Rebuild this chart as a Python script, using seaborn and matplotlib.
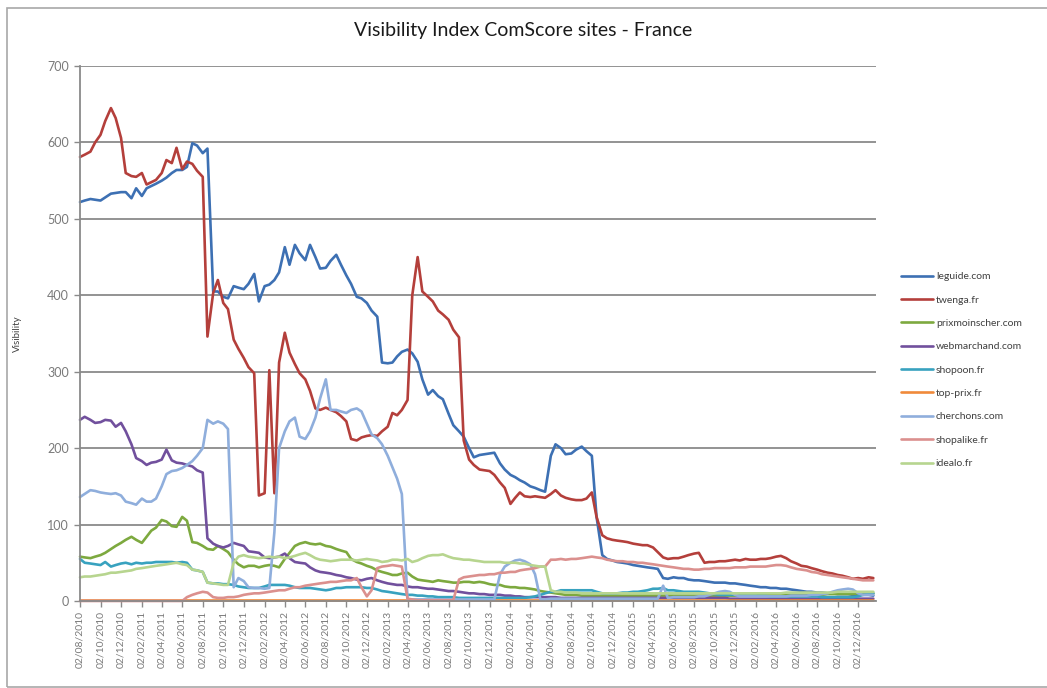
import pandas as pd
import matplotlib.pyplot as plt
import seaborn as sns
from matplotlib.patches import Rectangle

sns.set_theme(style='white')
plt.rcParams['font.family'] = ['Lato', 'DejaVu Sans']

sites = ['leguide.com', 'twenga.fr', 'prixmoinscher.com', 'webmarchand.com', 'shopoon.fr',
         'top-prix.fr', 'cherchons.com', 'shopalike.fr', 'idealo.fr']
colors = ['#3D70B3', '#B43F3B', '#7DA93F', '#71509D', '#38A2BF',
          '#F08A3A', '#8FAEDC', '#DB908E', '#B7D58F']

# semi-monthly readings, 02/08/2010 -> 16/01/2017
dates = pd.date_range('2010-08-01', periods=156, freq='SMS') + pd.Timedelta(days=1)

leguide = [522, 524, 526, 525, 524, 528, 533, 534, 535, 535,
           527, 540, 530, 540, 543, 546, 550, 554, 560, 564,
           564, 568, 599, 596, 586, 592, 405, 405, 398, 396,
           412, 410, 408, 415, 428, 392, 412, 414, 420, 430,
           463, 440, 466, 455, 446, 466, 450, 435, 436, 445,
           453, 440, 426, 415, 398, 396, 390, 380, 372, 312,
           311, 312, 320, 326, 329, 324, 313, 290, 270, 276,
           268, 264, 245, 230, 222, 215, 200, 188, 191, 192,
           193, 194, 180, 172, 165, 162, 158, 155, 150, 148,
           145, 143, 190, 205, 200, 192, 193, 198, 202, 196,
           190, 110, 60, 55, 53, 51, 50, 49, 47, 46,
           45, 44, 43, 42, 30, 29, 31, 30, 30, 28,
           27, 27, 26, 25, 24, 24, 24, 23, 23, 22,
           21, 20, 19, 18, 18, 17, 17, 16, 16, 15,
           14, 13, 12, 12, 11, 11, 10, 10, 9, 9,
           9, 8, 8, 8, 8, 7]

twenga = [581, 584, 588, 600, 610, 628, 645, 632, 606, 560,
          556, 555, 560, 545, 548, 551, 560, 577, 573, 593,
          565, 575, 572, 563, 555, 346, 403, 420, 390, 382,
          342, 330, 318, 306, 298, 138, 141, 302, 141, 312,
          351, 325, 310, 298, 290, 275, 252, 250, 253, 250,
          247, 242, 235, 212, 210, 214, 216, 217, 216, 222,
          228, 246, 243, 250, 263, 400, 450, 405, 398, 392,
          380, 375, 368, 355, 345, 210, 185, 178, 172, 171,
          170, 165, 155, 148, 127, 135, 142, 137, 136, 137,
          136, 135, 140, 145, 138, 135, 133, 132, 132, 134,
          142, 110, 86, 82, 80, 79, 78, 77, 75, 74,
          73, 73, 70, 64, 57, 55, 56, 56, 58, 60,
          62, 63, 50, 51, 51, 52, 52, 53, 54, 53,
          55, 54, 54, 55, 55, 56, 58, 59, 56, 52,
          49, 46, 45, 43, 41, 39, 37, 36, 34, 33,
          31, 29, 30, 29, 31, 30]

prixmoinscher = [58, 57, 56, 58, 60, 63, 68, 72, 76, 80,
                 84, 80, 76, 84, 92, 96, 106, 104, 98, 97,
                 110, 105, 77, 76, 72, 68, 67, 72, 68, 64,
                 54, 48, 44, 46, 46, 44, 46, 47, 46, 44,
                 55, 63, 72, 75, 77, 75, 74, 75, 72, 71,
                 68, 66, 64, 55, 51, 49, 46, 44, 40, 38,
                 36, 34, 34, 36, 37, 32, 28, 27, 26, 25,
                 27, 26, 25, 24, 24, 25, 25, 24, 25, 24,
                 22, 21, 21, 19, 18, 18, 17, 17, 16, 15,
                 13, 12, 11, 10, 9, 8, 8, 8, 7, 7,
                 7, 7, 7, 7, 7, 7, 7, 7, 7, 7,
                 7, 7, 7, 7, 7, 7, 7, 7, 7, 7,
                 7, 7, 7, 7, 7, 7, 7, 7, 7, 7,
                 7, 7, 7, 8, 8, 8, 8, 8, 8, 8,
                 8, 8, 8, 8, 8, 8, 9, 9, 9, 9,
                 9, 9, 10, 10, 10, 10]

webmarchand = [237, 241, 237, 233, 234, 237, 236, 228, 233, 222,
               205, 187, 183, 178, 181, 182, 185, 198, 184, 181,
               180, 178, 176, 171, 168, 82, 75, 72, 70, 72,
               76, 74, 72, 65, 64, 63, 57, 56, 57, 58,
               62, 56, 51, 50, 49, 44, 40, 38, 37, 36,
               34, 33, 31, 30, 28, 27, 29, 30, 27, 25,
               23, 22, 21, 21, 19, 18, 18, 17, 16, 16,
               15, 14, 13, 13, 12, 11, 10, 10, 9, 9,
               8, 8, 8, 7, 7, 6, 6, 5, 5, 5,
               5, 5, 5, 5, 4, 4, 4, 4, 4, 4,
               4, 4, 4, 4, 4, 4, 4, 4, 4, 4,
               4, 4, 4, 4, 4, 4, 4, 4, 4, 4,
               4, 4, 4, 4, 4, 4, 4, 3, 3, 3,
               3, 3, 3, 3, 3, 3, 3, 3, 3, 3,
               3, 3, 3, 3, 3, 3, 3, 3, 3, 3,
               3, 3, 3, 3, 3, 3]

shopoon = [55, 50, 49, 48, 47, 51, 45, 47, 49, 50,
           48, 50, 49, 50, 50, 51, 51, 51, 51, 50,
           51, 50, 41, 40, 38, 24, 23, 23, 22, 22,
           21, 19, 18, 17, 17, 17, 19, 21, 21, 21,
           21, 20, 18, 17, 17, 17, 16, 15, 14, 15,
           17, 17, 18, 18, 18, 18, 17, 17, 15, 13,
           12, 11, 10, 9, 8, 8, 7, 7, 6, 6,
           5, 5, 5, 5, 4, 4, 4, 4, 4, 4,
           4, 4, 4, 4, 4, 4, 4, 4, 5, 6,
           8, 10, 12, 12, 14, 14, 14, 14, 14, 14,
           14, 12, 10, 10, 10, 10, 11, 11, 12, 12,
           13, 14, 16, 16, 17, 14, 14, 13, 12, 12,
           12, 12, 11, 10, 9, 8, 8, 8, 8, 7,
           7, 7, 7, 7, 7, 6, 6, 6, 6, 6,
           6, 6, 6, 6, 6, 5, 5, 5, 5, 5,
           5, 5, 6, 8, 9, 10]

topprix = [1, 1, 1, 1, 1, 1, 1, 1, 1, 1,
           1, 1, 1, 1, 1, 1, 1, 1, 1, 1,
           1, 1, 1, 1, 1, 1, 1, 1, 1, 1,
           1, 1, 1, 1, 1, 1, 1, 1, 1, 1,
           1, 1, 1, 1, 1, 1, 1, 1, 1, 1,
           1, 1, 1, 1, 1, 1, 1, 1, 1, 1,
           1, 1, 1, 1, 1, 1, 1, 1, 1, 1,
           1, 1, 1, 1, 1, 1, 1, 1, 1, 1,
           1, 1, 1, 1, 1, 1, 1, 1, 1, 1,
           1, 1, 1, 1, 1, 1, 1, 1, 1, 1,
           1, 1, 1, 1, 1, 1, 1, 1, 1, 1,
           1, 1, 1, 1, 1, 1, 1, 1, 1, 1,
           1, 1, 1, 1, 1, 1, 1, 1, 1, 1,
           1, 1, 1, 1, 1, 1, 1, 1, 1, 1,
           1, 1, 1, 1, 1, 1, 1, 1, 1, 1,
           1, 1, 1, 1, 1, 1]

cherchons = [136, 140, 145, 144, 142, 141, 140, 141, 138, 130,
             128, 126, 134, 130, 130, 134, 150, 166, 170, 171,
             174, 178, 183, 190, 200, 237, 232, 235, 232, 225,
             18, 30, 26, 18, 17, 17, 16, 17, 90, 200,
             222, 235, 240, 215, 212, 222, 240, 265, 290, 250,
             250, 248, 246, 250, 252, 248, 232, 218, 213, 205,
             190, 175, 160, 140, 2, 2, 2, 2, 2, 2,
             2, 2, 2, 2, 2, 2, 2, 2, 2, 2,
             2, 2, 35, 45, 50, 53, 54, 52, 48, 35,
             2, 2, 3, 3, 3, 3, 3, 3, 3, 3,
             3, 3, 3, 3, 3, 3, 3, 3, 3, 3,
             3, 3, 3, 3, 20, 4, 5, 5, 5, 5,
             5, 6, 6, 8, 10, 12, 13, 12, 8, 6,
             6, 6, 6, 6, 6, 6, 6, 6, 6, 7,
             7, 7, 7, 8, 8, 9, 10, 12, 14, 15,
             16, 15, 10, 8, 8, 8]

shopalike = [0, 0, 0, 0, 0, 0, 0, 0, 0, 0,
             0, 0, 0, 0, 0, 0, 0, 0, 0, 0,
             0, 5, 8, 10, 12, 11, 5, 4, 4, 5,
             5, 6, 8, 9, 10, 10, 11, 12, 13, 14,
             14, 16, 18, 18, 20, 21, 22, 23, 24, 25,
             25, 26, 27, 27, 30, 18, 6, 14, 43, 45,
             46, 47, 46, 45, 3, 2, 1, 1, 1, 1,
             1, 1, 1, 1, 28, 31, 32, 33, 34, 34,
             35, 35, 37, 37, 38, 38, 40, 41, 42, 43,
             45, 45, 54, 54, 55, 54, 55, 55, 56, 57,
             58, 57, 56, 54, 53, 52, 52, 51, 51, 50,
             50, 49, 48, 47, 46, 45, 44, 43, 42, 42,
             41, 41, 42, 42, 43, 43, 43, 43, 44, 44,
             44, 45, 45, 45, 45, 46, 47, 47, 46, 44,
             42, 41, 40, 38, 37, 35, 34, 33, 32, 31,
             30, 29, 28, 27, 27, 27]

idealo = [31, 32, 32, 33, 34, 35, 37, 37, 38, 39,
          40, 42, 43, 44, 45, 46, 47, 48, 49, 50,
          48, 47, 41, 40, 38, 24, 23, 22, 21, 21,
          50, 58, 60, 58, 57, 56, 57, 58, 57, 58,
          56, 57, 59, 61, 63, 60, 56, 54, 53, 52,
          53, 54, 54, 54, 53, 54, 55, 54, 53, 51,
          52, 54, 54, 53, 55, 51, 53, 56, 59, 60,
          60, 61, 58, 56, 55, 54, 54, 53, 52, 51,
          51, 51, 51, 50, 50, 50, 49, 49, 47, 46,
          45, 45, 14, 12, 12, 11, 11, 11, 10, 10,
          10, 10, 10, 10, 10, 10, 10, 10, 10, 10,
          10, 10, 10, 10, 10, 10, 10, 10, 10, 10,
          10, 10, 10, 10, 10, 10, 10, 10, 10, 10,
          10, 10, 10, 10, 10, 10, 10, 10, 11, 11,
          11, 11, 11, 11, 11, 11, 11, 11, 12, 12,
          12, 12, 12, 12, 12, 12]

wide = pd.DataFrame({'date': dates, 'leguide.com': leguide, 'twenga.fr': twenga,
                     'prixmoinscher.com': prixmoinscher, 'webmarchand.com': webmarchand,
                     'shopoon.fr': shopoon, 'top-prix.fr': topprix, 'cherchons.com': cherchons,
                     'shopalike.fr': shopalike, 'idealo.fr': idealo})
df = wide.melt(id_vars='date', var_name='site', value_name='visibility')

fig = plt.figure(figsize=(10.47, 6.88), dpi=100)
ax = fig.add_axes([0.0764, 0.1265, 0.7603, 0.7775])

sns.lineplot(data=df, x='date', y='visibility', hue='site', hue_order=sites,
             palette=dict(zip(sites, colors)), linewidth=1.9, ax=ax)
for line in ax.lines:
    line.set_clip_on(False)

ax.set_ylim(0, 700)
ax.set_yticks(range(0, 701, 100))
ax.set_xlim(pd.Timestamp('2010-08-02'), pd.Timestamp('2017-01-24'))
ticks = pd.date_range('2010-08-01', '2016-12-01', freq='2MS') + pd.Timedelta(days=1)
ax.set_xticks(ticks)
ax.set_xticklabels([d.strftime('%d/%m/%Y') for d in ticks], rotation=90)

ax.yaxis.grid(True, color='#8A8A8A', linewidth=1.3)
ax.xaxis.grid(False)
ax.set_axisbelow(True)
for s in ['top', 'right']:
    ax.spines[s].set_visible(False)
for s in ['left', 'bottom']:
    ax.spines[s].set_color('#8A8A8A')
    ax.spines[s].set_linewidth(1.3)
ax.tick_params(axis='both', which='both', direction='out', length=4, width=1,
               color='#8A8A8A', labelcolor='#7A7A7A')
ax.tick_params(axis='y', labelsize=9, pad=4)
ax.tick_params(axis='x', labelsize=7.5, pad=3)
ax.tick_params(left=True, bottom=True)

ax.set_xlabel('')
ax.set_ylabel('Visibility', fontsize=7, color='#404040', labelpad=18)
fig.suptitle('Visibility Index ComScore sites - France', fontsize=14, color='#1A1A1A', y=0.968)

handles, labels = ax.get_legend_handles_labels()
ax.legend(handles, labels, loc='center left', bbox_to_anchor=(0.852, 0.462),
          bbox_transform=fig.transFigure, frameon=False, fontsize=7.5,
          handlelength=3.0, handletextpad=0.3, labelspacing=1.35, labelcolor='#404040')

fig.patches.append(Rectangle((0.007, 0.002), 1.1, 0.987, transform=fig.transFigure,
                             fill=False, edgecolor='#A8A8A8', linewidth=1.2))

fig.savefig('out.png', dpi=100)
